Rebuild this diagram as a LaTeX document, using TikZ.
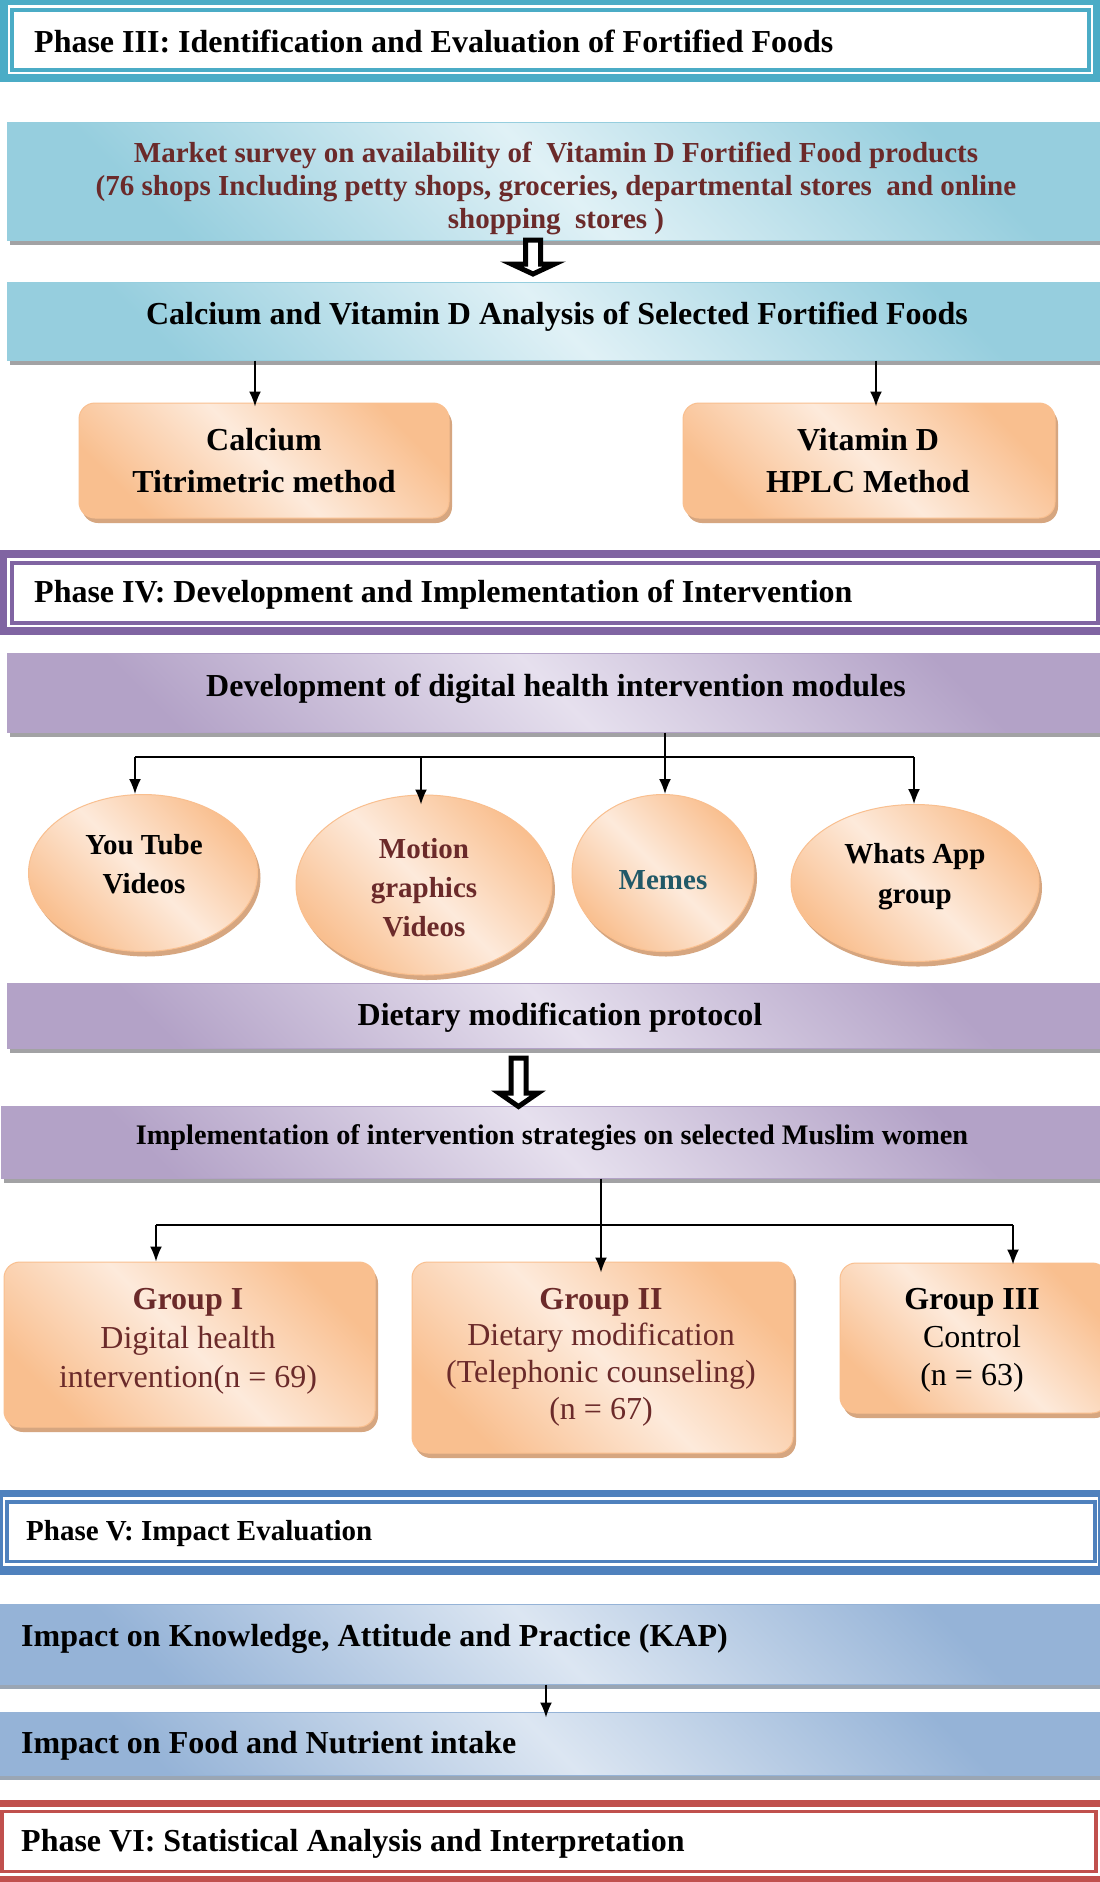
\documentclass[tikz,border=0pt]{standalone}
\usepackage{fontspec}
\setmainfont{Liberation Serif}
\usetikzlibrary{shapes.geometric,shadows,arrows.meta,calc}
\definecolor{tealband}{HTML}{4BACC6}
\definecolor{tealdk}{HTML}{96CEDE}
\definecolor{teallt}{HTML}{E0F1F6}
\definecolor{purband}{HTML}{8064A2}
\definecolor{purdk}{HTML}{B3A2C7}
\definecolor{purlt}{HTML}{E6E0EE}
\definecolor{bluband}{HTML}{4F81BD}
\definecolor{bludk}{HTML}{95B3D7}
\definecolor{blult}{HTML}{DCE6F2}
\definecolor{redband}{HTML}{C0504D}
\definecolor{orgdk}{HTML}{F9BF8F}
\definecolor{orglt}{HTML}{FDEADB}
\definecolor{maroon}{HTML}{6B2A2A}
\definecolor{memescol}{HTML}{215968}
\definecolor{shgray}{HTML}{A2A2A4}
\definecolor{shblue}{HTML}{9AA6B4}
\definecolor{shorg}{HTML}{D6A680}
\tikzset{
  phasetext/.style={font=\bfseries\fontsize{32}{38}\selectfont, inner sep=0pt, anchor=west},
  shad/.style={drop shadow={shadow xshift=3pt, shadow yshift=-5pt, fill=#1, opacity=1}},
  gradfill/.style 2 args={top color=#1, bottom color=#1, middle color=#2, shading angle=-45},
  tealbox/.style={rectangle, inner sep=0pt, draw=tealdk, line width=1pt, gradfill={tealdk}{teallt}, shad=shgray},
  purbox/.style={rectangle, inner sep=0pt, draw=purdk, line width=1pt, gradfill={purdk}{purlt}, shad=shgray},
  blubox/.style={rectangle, inner sep=0pt, draw=bludk, line width=1pt, gradfill={bludk}{blult}, shad=shblue},
  orgbox/.style={rectangle, rounded corners=16pt, inner sep=0pt, draw=orgdk, line width=1pt, gradfill={orgdk}{orglt}, shad=shorg},
  orgell/.style={ellipse, inner sep=0pt, draw=orgdk, line width=1pt, gradfill={orgdk}{orglt}, shad=shorg},
  txt/.style={inner sep=0pt, align=center},
  arr/.style={line width=1.7pt, -{Latex[length=15pt,width=12pt]}},
  ln/.style={line width=1.7pt},
  hollow/.style={draw=black, fill=white, line width=5pt, line join=miter},
}
\begin{document}
\begin{tikzpicture}[x=1pt,y=-1pt]
\useasboundingbox (0,0) rectangle (1100,1882);
\fill[white] (0,0) rectangle (1100,1882);

% ---------- Phase III ----------
\fill[tealband] (0,0) rectangle (1100,82);
\fill[white] (8,5) rectangle (1093,74);
\draw[tealband, line width=4pt] (12,9.5) rectangle (1089,69.5);
\node[phasetext] (p3) at (34,41) {Phase III: Identification and Evaluation of Fortified Foods};

\node[tealbox, minimum width=1098pt, minimum height=118pt] (ms) at (556,181) {};
\node[txt, text=maroon, font=\bfseries\fontsize{29}{33}\selectfont] (mst) at (556,188)
  {Market survey on availability of\ \ Vitamin D Fortified Food products\\(76 shops Including petty shops, groceries, departmental stores\ \ and online\\shopping\ \ stores )};

\node[tealbox, minimum width=1098pt, minimum height=78pt] (ana) at (556,321) {};
\node[txt, font=\bfseries\fontsize{32}{38}\selectfont] (anat) at (557,316.5) {Calcium and Vitamin D Analysis of Selected Fortified Foods};

\coordinate (h1) at ([xshift=-23pt]ms.south);
\draw[hollow] (h1) ++(-7.5,-0.5) -- ++(15,0) -- ++(0,24) -- ++(14,0) -- ++(-21.5,10) -- ++(-21.5,-10) -- ++(14,0) -- cycle;

\node[orgbox, minimum width=370pt, minimum height=115pt] (cal) at (264,460.5) {};
\node[txt, font=\bfseries\fontsize{32}{42}\selectfont] (calt) at (264,461) {Calcium\\Titrimetric method};
\node[orgbox, minimum width=372pt, minimum height=115pt] (vit) at (869,460.5) {};
\node[txt, font=\bfseries\fontsize{32}{42}\selectfont] (vitt) at (868,460.5) {Vitamin D\\HPLC Method};

\draw[arr] ([xshift=-9pt]cal.north |- ana.south) -- ([xshift=-9pt,yshift=-4pt]cal.north);
\draw[arr] ([xshift=7pt]vit.north |- ana.south) -- ([xshift=7pt,yshift=-4pt]vit.north);

% ---------- Phase IV ----------
\fill[purband] (0,550) rectangle (1110,635);
\fill[white] (7,558) rectangle (1102,627);
\draw[purband, line width=4pt] (12,563) rectangle (1098,622.5);
\node[phasetext] (p4) at (34,595) {Phase IV: Development and Implementation of Intervention};

\node[purbox, minimum width=1098pt, minimum height=79pt] (dev) at (556,692.5) {};
\node[txt, font=\bfseries\fontsize{32}{38}\selectfont] (devt) at (556,688.5) {Development of digital health intervention modules};

\node[orgell, minimum width=229pt, minimum height=157pt] (yt) at (143,873) {};
\node[txt, font=\bfseries\fontsize{29}{39}\selectfont] (ytt) at (144,864) {You Tube\\Videos};
\node[orgell, minimum width=256pt, minimum height=180pt] (mg) at (424,885) {};
\node[txt, text=maroon, font=\bfseries\fontsize{29}{39}\selectfont] (mgt) at (424,887.5) {Motion\\graphics\\Videos};
\node[orgell, minimum width=182pt, minimum height=157pt] (mm) at (663,873) {};
\node[txt, text=memescol, font=\bfseries\fontsize{29}{39}\selectfont] (mmt) at (663,880) {Memes};
\node[orgell, minimum width=248pt, minimum height=157pt] (wa) at (915,883) {};
\node[txt, font=\bfseries\fontsize{29}{40}\selectfont] (wat) at (915,876.5) {Whats App\\group};

\coordinate (dj) at (665,757);
\coordinate (dl) at (135,757);
\coordinate (dr) at (914,757);
\draw[ln] (dev.south -| dj) -- (dj);
\draw[ln] (dl) -- (dr);
\draw[arr] (dl) -- (dl |- yt.north);
\draw[arr] ([xshift=-3pt]mg.north |- dl) -- ([xshift=-3pt,yshift=-10pt]mg.north);
\draw[arr] (dj) -- (dj |- mm.north);
\draw[arr] (dr) -- (dr |- wa.north);

\node[purbox, minimum width=1098pt, minimum height=65pt] (diet) at (556,1015.5) {};
\node[txt, font=\bfseries\fontsize{32}{38}\selectfont] (dietT) at (560,1018) {Dietary modification protocol};

\node[purbox, minimum width=1104pt, minimum height=72pt] (impl) at (553,1142) {};
\node[txt, font=\bfseries\fontsize{28.3}{34}\selectfont] (implt) at (552,1138) {Implementation of intervention strategies on selected Muslim women};

\coordinate (h2) at ([xshift=-37.5pt]diet.south);
\draw[hollow] (h2) ++(-7.5,9.5) -- ++(15,0) -- ++(0,35) -- ++(12,0) -- ++(-19.5,13.5) -- ++(-19.5,-13.5) -- ++(12,0) -- cycle;

\node[orgbox, minimum width=371pt, minimum height=165pt] (g1) at (189.5,1344.5) {};
\node[txt, text=maroon, font=\fontsize{32}{39}\selectfont] (g1t) at (188,1341.5) {{\bfseries Group I}\\Digital health\\intervention(n = 69)};
\node[orgbox, minimum width=381pt, minimum height=191pt] (g2) at (602.5,1357.5) {};
\node[txt, text=maroon, font=\fontsize{32}{36.7}\selectfont] (g2t) at (601,1357) {{\bfseries Group II}\\Dietary modification\\(Telephonic counseling)\\(n = 67)};
\node[orgbox, minimum width=268pt, minimum height=150pt] (g3) at (974,1338) {};
\node[txt, font=\fontsize{32}{38}\selectfont] (g3t) at (972,1340) {{\bfseries Group III}\\Control\\(n = 63)};

\coordinate (ij) at (601,1225);
\coordinate (il) at (156,1225);
\coordinate (ir) at (1013,1225);
\draw[ln] (impl.south -| ij) -- (ij);
\draw[ln] (il) -- (ir);
\draw[arr] (il) -- (il |- g1.north);
\draw[arr] (ij) -- ([yshift=-11pt]ij |- g2.north);
\draw[arr] (ir) -- ([yshift=-2pt]ir |- g3.north);

% ---------- Phase V ----------
\fill[bluband] (-2,1490) rectangle (1100,1575);
\fill[white] (3,1497) rectangle (1098,1566);
\draw[bluband, line width=3.5pt] (7,1502) rectangle (1095,1561.5);
\node[phasetext, font=\bfseries\fontsize{29}{35}\selectfont] (p5) at (26,1534) {Phase V: Impact Evaluation};

\node[blubox, minimum width=1110pt, minimum height=80pt] (kap) at (550,1644) {};
\node[txt, anchor=west, font=\bfseries\fontsize{32}{38}\selectfont] (kapt) at (21,1638.5) {Impact on Knowledge, Attitude and Practice (KAP)};
\node[blubox, minimum width=1110pt, minimum height=63pt] (food) at (550,1743.5) {};
\node[txt, anchor=west, font=\bfseries\fontsize{32}{38}\selectfont] (foodt) at (21,1746) {Impact on Food and Nutrient intake};
\draw[arr] ([xshift=-4pt]kap.south) -- ([xshift=-4pt,yshift=-6pt]food.north);

% ---------- Phase VI ----------
\fill[redband] (-6,1800) rectangle (1106,1895);
\fill[white] (-3,1807) rectangle (1103,1876);
\draw[redband, line width=3.5pt] (2,1811.5) rectangle (1096,1871.5);
\node[phasetext] (p6) at (21,1844) {Phase VI: Statistical Analysis and Interpretation};
\end{tikzpicture}
\end{document}
